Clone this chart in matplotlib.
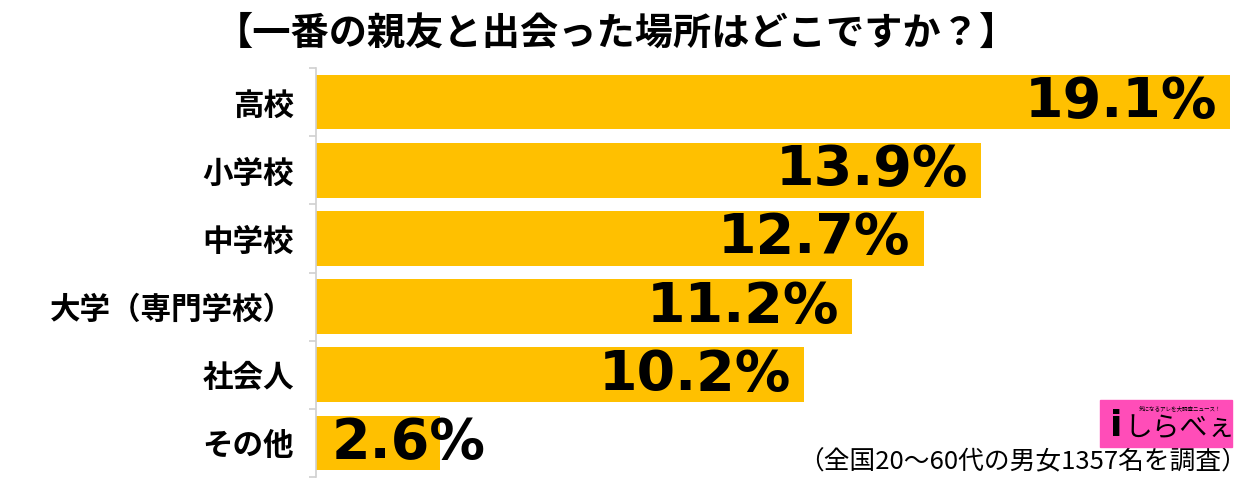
import matplotlib
matplotlib.use("Agg")
from matplotlib import pyplot as plt
from matplotlib.patches import Rectangle

plt.rcParams["font.family"] = ["Noto Sans CJK JP", "DejaVu Sans"]

# data
categories = ["高校", "小学校", "中学校", "大学（専門学校）", "社会人", "その他"]
values = [19.1, 13.9, 12.7, 11.2, 10.2, 2.6]
value_labels = ["19.1%", "13.9%", "12.7%", "11.2%", "10.2%", "2.6%"]

title = "【一番の親友と出会った場所はどこですか？】"
note = "（全国20～60代の男女1357名を調査）"

bar_color = "#FFC000"
grid_gray = "#d0d0d0"

fig = plt.figure(figsize=(12.48, 4.82), dpi=100)
ax = fig.add_axes([316 / 1248, 1 - 477 / 482, (1230 - 316) / 1248, (477 - 68) / 482])

pos = list(range(len(categories)))
ax.barh(pos, values, height=0.8, color=bar_color)
ax.set_xlim(0, 19.1)
ax.set_ylim(len(categories) - 0.5, -0.5)

# category labels
ax.set_yticks(pos)
ax.set_yticklabels(categories, fontsize=22, fontweight="bold")
ax.tick_params(axis="y", which="major", length=0, pad=16)
ax.set_yticks([p - 0.5 for p in pos] + [len(categories) - 0.5], minor=True)
ax.tick_params(axis="y", which="minor", length=5, color=grid_gray, width=1.2)
ax.set_xticks([])

for s in ["top", "right", "bottom"]:
    ax.spines[s].set_visible(False)
ax.spines["left"].set_color(grid_gray)
ax.spines["left"].set_linewidth(1.2)

# value labels
for p, v, lab in zip(pos, values, value_labels):
    if v < 5:
        ax.annotate(lab, (0, p), xytext=(11, 0), textcoords="offset points",
                    ha="left", va="center", fontsize=40, fontweight="bold",
                    family="DejaVu Sans", color="black")
    else:
        ax.annotate(lab, (v, p), xytext=(-9.4, 0), textcoords="offset points",
                    ha="right", va="center", fontsize=40, fontweight="bold",
                    family="DejaVu Sans", color="black")

fig.text(616 / 1248, 1 - 33 / 482, title, ha="center", va="center",
         fontsize=27.5, fontweight="bold")

fig.text(1247 / 1248, 1 - 462 / 482, note, ha="right", va="center", fontsize=18.5)

# logo box
fig.patches.append(Rectangle((1100 / 1248, 1 - 447 / 482), 132 / 1248, 47 / 482,
                             transform=fig.transFigure, color="#FF4DB8", zorder=5))
fig.text(1116 / 1248, 1 - 426 / 482, "i", ha="center", va="center", fontsize=26,
         fontweight="bold", family="DejaVu Sans", color="black", zorder=6)
fig.text(1180 / 1248, 1 - 428 / 482, "しらべぇ", ha="center", va="center", fontsize=20,
         color="black", zorder=6)
fig.text(1180 / 1248, 1 - 408 / 482, "気になるアレを大調査ニュース！", ha="center",
         va="center", fontsize=4, color="black", zorder=6)

fig.savefig("out.png", dpi=100)
